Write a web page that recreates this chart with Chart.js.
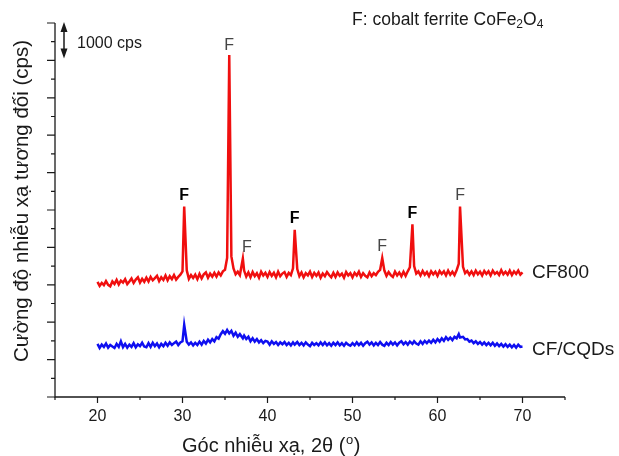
<!DOCTYPE html>
<html>
<head>
<meta charset="utf-8">
<script src="https://cdn.jsdelivr.net/npm/chart.js@4.4.1/dist/chart.umd.min.js"></script>
<style>
  html, body { margin: 0; padding: 0; background: #fff; }
  canvas { display: block; }
</style>
</head>
<body>
<canvas id="xrd" width="619" height="456"></canvas>
<script>
// 2theta sampling (degrees), one row = 2 degrees
const angles = [
  20, 20.25, 20.5, 20.75, 21, 21.25, 21.5, 21.75,
  22, 22.25, 22.5, 22.75, 23, 23.25, 23.5, 23.75,
  24, 24.25, 24.5, 24.75, 25, 25.25, 25.5, 25.75,
  26, 26.25, 26.5, 26.75, 27, 27.25, 27.5, 27.75,
  28, 28.25, 28.5, 28.75, 29, 29.25, 29.5, 29.75,
  30, 30.2, 30.5, 30.75, 31, 31.25, 31.5, 31.75,
  32, 32.25, 32.5, 32.75, 33, 33.25, 33.5, 33.75,
  34, 34.25, 34.5, 34.75, 35, 35.25, 35.5, 35.75,
  36, 36.25, 36.5, 36.75, 37.1, 37.25, 37.5, 37.75,
  38, 38.25, 38.5, 38.75, 39, 39.25, 39.5, 39.75,
  40, 40.25, 40.5, 40.75, 41, 41.25, 41.5, 41.75,
  42, 42.25, 42.5, 42.75, 43, 43.2, 43.5, 43.75,
  44, 44.25, 44.5, 44.75, 45, 45.25, 45.5, 45.75,
  46, 46.25, 46.5, 46.75, 47, 47.25, 47.5, 47.75,
  48, 48.25, 48.5, 48.75, 49, 49.25, 49.5, 49.75,
  50, 50.25, 50.5, 50.75, 51, 51.25, 51.5, 51.75,
  52, 52.25, 52.5, 52.75, 53, 53.25, 53.5, 53.75,
  54, 54.25, 54.5, 54.75, 55, 55.25, 55.5, 55.75,
  56, 56.25, 56.5, 56.75, 57.05, 57.25, 57.5, 57.75,
  58, 58.25, 58.5, 58.75, 59, 59.25, 59.5, 59.75,
  60, 60.25, 60.5, 60.75, 61, 61.25, 61.5, 61.75,
  62, 62.25, 62.5, 62.65, 63, 63.25, 63.5, 63.75,
  64, 64.25, 64.5, 64.75, 65, 65.25, 65.5, 65.75,
  66, 66.25, 66.5, 66.75, 67, 67.25, 67.5, 67.75,
  68, 68.25, 68.5, 68.75, 69, 69.25, 69.5, 69.75,
  70
];

// intensity (cps) of CF800
const cf800 = [
  3080, 2970, 3050, 2990, 3100, 3000, 2960, 3090,
  3020, 3130, 3010, 3110, 3060, 3150, 3020, 3090,
  3170, 3050, 3140, 3200, 3060, 3160, 3080, 3190,
  3090, 3210, 3120, 3180, 3240, 3100, 3200, 3130,
  3250, 3120, 3230, 3150, 3260, 3140, 3210, 3270,
  3360, 5090, 3390, 3160, 3260, 3180, 3270, 3150,
  3290, 3170, 3280, 3330, 3190, 3300, 3220, 3320,
  3220, 3330, 3250, 3360, 3400, 3720, 9145, 3760,
  3440, 3280, 3350, 3260, 3700, 3380, 3220, 3330,
  3200, 3340, 3230, 3310, 3190, 3350, 3250, 3320,
  3210, 3340, 3240, 3320, 3200, 3350, 3230, 3300,
  3340, 3210, 3320, 3260, 3440, 4470, 3420, 3230,
  3330, 3200, 3310, 3250, 3350, 3210, 3320, 3240,
  3330, 3190, 3300, 3230, 3340, 3260, 3200, 3320,
  3210, 3330, 3240, 3300, 3190, 3340, 3250, 3310,
  3200, 3320, 3250, 3350, 3210, 3310, 3240, 3200,
  3330, 3230, 3310, 3260, 3350, 3400, 3715, 3380,
  3240, 3340, 3260, 3210, 3350, 3250, 3330, 3230,
  3350, 3240, 3360, 3470, 4620, 3500, 3300, 3360,
  3250, 3370, 3270, 3340, 3230, 3360, 3280, 3350,
  3240, 3370, 3290, 3360, 3250, 3380, 3270, 3350,
  3260, 3390, 3560, 5090, 3480, 3310, 3370, 3270,
  3360, 3260, 3380, 3280, 3350, 3250, 3370, 3290,
  3360, 3250, 3380, 3290, 3340, 3260, 3390, 3280,
  3350, 3270, 3380, 3260, 3360, 3290, 3380, 3270,
  3330
];

// intensity (cps) of CF/CQDs
const cfCqds = [
  1420, 1310, 1400, 1340, 1430, 1320, 1390, 1350,
  1310, 1420, 1340, 1490, 1330, 1420, 1320, 1400,
  1340, 1440, 1330, 1410, 1360, 1450, 1350, 1330,
  1440, 1340, 1450, 1360, 1430, 1330, 1420, 1360,
  1450, 1370, 1460, 1390, 1440, 1480, 1390, 1460,
  1490, 1930, 1480, 1400, 1460, 1380, 1450, 1390,
  1480, 1400, 1500, 1430, 1530, 1460, 1550, 1490,
  1600, 1560, 1680, 1760, 1690, 1790, 1700, 1770,
  1640, 1720, 1610, 1680, 1570, 1640, 1550, 1610,
  1490, 1570, 1480, 1550, 1460, 1520, 1440, 1500,
  1480, 1400, 1490, 1420, 1470, 1390, 1460, 1410,
  1470, 1390, 1450, 1380, 1460, 1400, 1470, 1390,
  1450, 1380, 1460, 1400, 1360, 1450, 1390, 1440,
  1380, 1460, 1390, 1460, 1380, 1440, 1370, 1450,
  1390, 1460, 1380, 1440, 1370, 1450, 1400, 1370,
  1440, 1380, 1460, 1390, 1450, 1370, 1440, 1480,
  1400, 1460, 1380, 1450, 1390, 1470, 1400, 1370,
  1450, 1390, 1470, 1400, 1460, 1380, 1450, 1490,
  1410, 1470, 1400, 1480, 1420, 1490, 1430, 1400,
  1490, 1420, 1500, 1440, 1510, 1450, 1530, 1460,
  1550, 1480, 1570, 1500, 1600, 1530, 1590, 1520,
  1610, 1570, 1680, 1590, 1610, 1540, 1550, 1480,
  1510, 1440, 1490, 1420, 1470, 1400, 1460, 1390,
  1450, 1380, 1450, 1370, 1430, 1360, 1420, 1350,
  1410, 1340, 1400, 1330, 1390, 1320, 1400, 1340,
  1350
];

// CoFe2O4 reflections marked "F"
const peakAngles = [30.2, 35.5, 37.1, 43.2, 53.5, 57.05, 62.65];
const peakStrong = [true, false, false, true, false, true, false];

const xMajorTicks = [20, 30, 40, 50, 60, 70];
const xMinorTicks = [15, 25, 35, 45, 55, 65, 75];
const yMajorTicks = [0, 1000, 2000, 3000, 4000, 5000, 6000, 7000, 8000, 9000, 10000];
const yMinorTicks = [500, 1500, 2500, 3500, 4500, 5500, 6500, 7500, 8500, 9500];

const FONT = '"Liberation Sans", Arial, sans-serif';
const INK = '#1a1a1a';

const decorations = {
  id: 'decorations',
  afterDraw(chart) {
    const ctx = chart.ctx;
    const xs = chart.scales.x, ys = chart.scales.y;
    const a = chart.chartArea;
    ctx.save();

    // axis lines
    ctx.strokeStyle = INK;
    ctx.lineWidth = 1.3;
    ctx.beginPath();
    ctx.moveTo(a.left, a.top);
    ctx.lineTo(a.left, a.bottom);
    ctx.lineTo(a.right, a.bottom);
    ctx.stroke();

    // ticks
    ctx.lineWidth = 1.2;
    ctx.beginPath();
    xMajorTicks.forEach(v => { const p = xs.getPixelForValue(v); ctx.moveTo(p, a.bottom); ctx.lineTo(p, a.bottom + 6); });
    xMinorTicks.forEach(v => { const p = xs.getPixelForValue(v); ctx.moveTo(p, a.bottom); ctx.lineTo(p, a.bottom + 3); });
    yMajorTicks.forEach(v => { const p = ys.getPixelForValue(v); ctx.moveTo(a.left, p); ctx.lineTo(a.left - 8, p); });
    yMinorTicks.forEach(v => { const p = ys.getPixelForValue(v); ctx.moveTo(a.left, p); ctx.lineTo(a.left - 4, p); });
    ctx.stroke();

    // x tick labels
    ctx.fillStyle = INK;
    ctx.font = '16px ' + FONT;
    ctx.textAlign = 'center';
    ctx.textBaseline = 'middle';
    xMajorTicks.forEach(v => ctx.fillText(String(v), xs.getPixelForValue(v), a.bottom + 20));

    // x title with superscript degree
    ctx.textAlign = 'left';
    ctx.font = '20px ' + FONT;
    let tx = 182;
    const ty = 446;
    const part1 = 'Góc nhiễu xạ, 2θ (';
    ctx.fillText(part1, tx, ty);
    tx += ctx.measureText(part1).width;
    ctx.font = '13px ' + FONT;
    ctx.fillText('o', tx + 0.5, ty - 6);
    tx += ctx.measureText('o').width + 1;
    ctx.font = '20px ' + FONT;
    ctx.fillText(')', tx, ty);

    // y title
    ctx.save();
    ctx.translate(22, 201);
    ctx.rotate(-Math.PI / 2);
    ctx.textAlign = 'center';
    ctx.font = '20.5px ' + FONT;
    ctx.fillText('Cường độ nhiễu xạ tương đối (cps)', 0, 0);
    ctx.restore();

    // scale bar arrow: 1000 cps
    const ax = 64;
    const y0 = ys.getPixelForValue(10000), y1 = ys.getPixelForValue(9000) - 3;
    ctx.lineWidth = 1.5;
    ctx.beginPath();
    ctx.moveTo(ax, y0 + 6);
    ctx.lineTo(ax, y1 - 6);
    ctx.stroke();
    ctx.beginPath();
    ctx.moveTo(ax, y0 - 1); ctx.lineTo(ax - 3.5, y0 + 9); ctx.lineTo(ax + 3.5, y0 + 9); ctx.closePath();
    ctx.moveTo(ax, y1 + 1); ctx.lineTo(ax - 3.5, y1 - 9); ctx.lineTo(ax + 3.5, y1 - 9); ctx.closePath();
    ctx.fill();
    ctx.font = '16px ' + FONT;
    ctx.textAlign = 'left';
    ctx.fillText('1000 cps', 77, 44);

    // phase note: F: cobalt ferrite CoFe2O4
    let lx = 352;
    const ly = 20;
    const seg = (txt, size, dy) => {
      ctx.font = size + 'px ' + FONT;
      ctx.fillText(txt, lx, ly + dy);
      lx += ctx.measureText(txt).width;
    };
    seg('F: cobalt ferrite CoFe', 17.5, 0);
    seg('2', 12, 5);
    seg('O', 17.5, 0);
    seg('4', 12, 5);

    // series names
    ctx.font = '19px ' + FONT;
    ctx.fillText('CF800', 532, 273);
    ctx.fillText('CF/CQDs', 532, 350);

    // peak marks
    ctx.textAlign = 'center';
    peakAngles.forEach((ang, i) => {
      const idx = angles.indexOf(ang);
      const px = xs.getPixelForValue(ang) + (ang === 37.1 ? 4 : 0);
      const py = ys.getPixelForValue(cf800[idx]) - (ang === 35.5 ? 9 : 11);
      ctx.font = (peakStrong[i] ? 'bold ' : '') + '16px ' + FONT;
      ctx.fillStyle = peakStrong[i] ? '#000' : '#454545';
      ctx.fillText('F', px, py);
    });

    ctx.restore();
  }
};

const toPoints = vals => vals.map((v, i) => ({ x: angles[i], y: v }));

new Chart(document.getElementById('xrd'), {
  type: 'line',
  data: {
    datasets: [
      {
        label: 'CF800',
        data: toPoints(cf800),
        borderColor: 'rgb(240, 15, 15)',
        borderWidth: 2.5,
        pointRadius: 0,
        tension: 0
      },
      {
        label: 'CF/CQDs',
        data: toPoints(cfCqds),
        borderColor: 'rgb(15, 15, 240)',
        borderWidth: 2.5,
        pointRadius: 0,
        tension: 0
      }
    ]
  },
  options: {
    responsive: false,
    animation: false,
    layout: { padding: { left: 55, right: 54, top: 23, bottom: 59 } },
    plugins: {
      legend: { display: false },
      tooltip: { enabled: false }
    },
    scales: {
      x: { type: 'linear', min: 15, max: 75, display: false },
      y: { type: 'linear', min: 0, max: 10000, display: false }
    }
  },
  plugins: [decorations]
});
</script>
</body>
</html>
